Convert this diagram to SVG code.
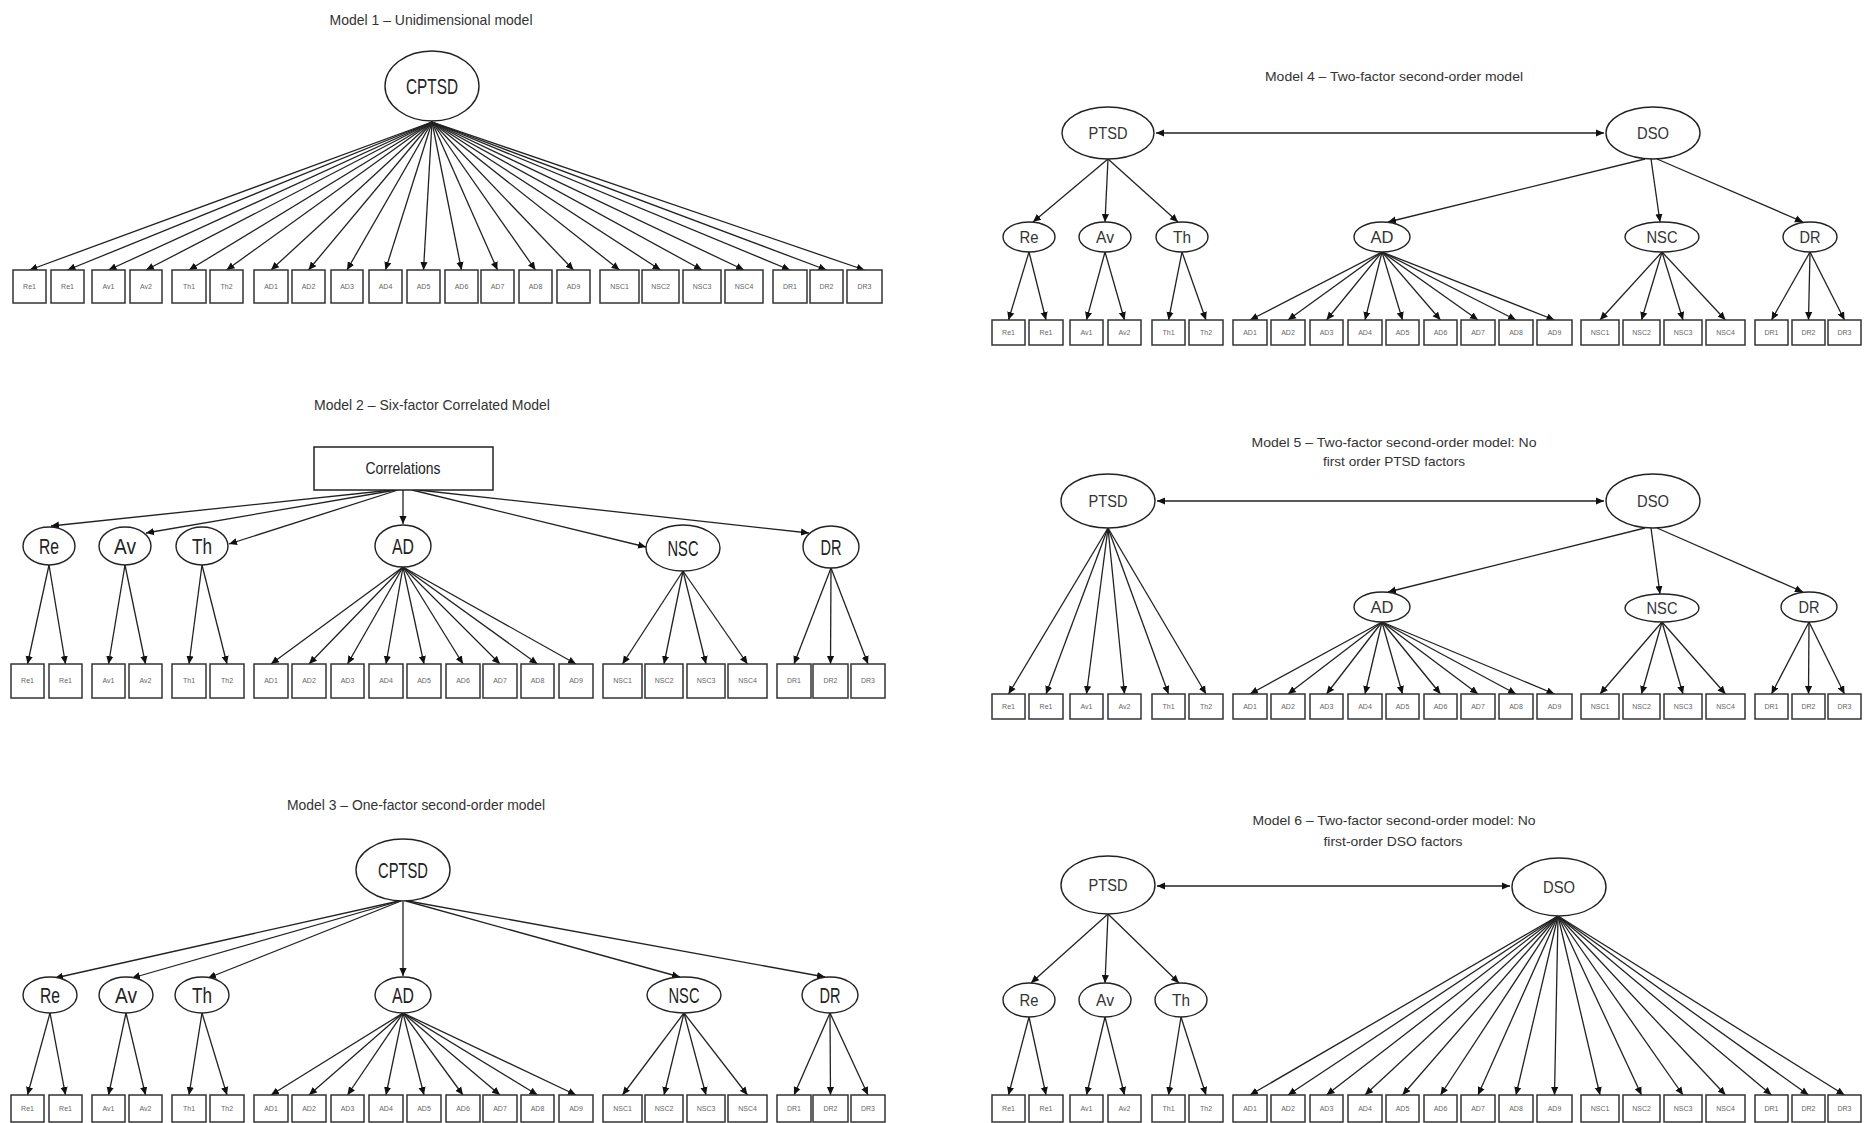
<svg xmlns="http://www.w3.org/2000/svg" width="1866" height="1123" viewBox="0 0 1866 1123">
<defs>
<marker id="ah" viewBox="0 0 10 10" refX="10" refY="5" markerWidth="8" markerHeight="8" markerUnits="userSpaceOnUse" orient="auto-start-reverse"><path d="M0,0.5 L10,5 L0,9.5 z" fill="#111"/></marker>
<style>
.box{fill:#fff;stroke:#333;stroke-width:1.5}
.lat{fill:#fff;stroke:#222;stroke-width:1.4}
.lbl{font-family:"Liberation Sans",Arial,sans-serif;font-size:7px;fill:#666;text-anchor:middle}
.fl{font-family:"Liberation Sans",Arial,sans-serif;font-size:22px;fill:#222;text-anchor:middle}
.fr{font-family:"Liberation Sans",Arial,sans-serif;font-size:17px;fill:#333;text-anchor:middle}
.tl{font-family:"Liberation Sans",Arial,sans-serif;font-size:15px;fill:#333;text-anchor:middle}
.tr{font-family:"Liberation Sans",Arial,sans-serif;font-size:13px;fill:#333;text-anchor:middle}
.ar{stroke:#222;stroke-width:1.3;fill:none;marker-end:url(#ah)}
.dar{stroke:#222;stroke-width:1.3;fill:none;marker-end:url(#ah);marker-start:url(#ah)}
</style>
</defs>
<rect width="1866" height="1123" fill="#fff"/>

<!-- Titles -->
<g id="titles">
<text class="tl" x="431" y="25" textLength="203" lengthAdjust="spacingAndGlyphs">Model 1 – Unidimensional model</text>
<text class="tl" x="432" y="410" textLength="236" lengthAdjust="spacingAndGlyphs">Model 2 – Six-factor Correlated Model</text>
<text class="tl" x="416" y="810" textLength="258" lengthAdjust="spacingAndGlyphs">Model 3 – One-factor second-order model</text>
<text class="tr" x="1394" y="81" textLength="258" lengthAdjust="spacingAndGlyphs">Model 4 – Two-factor second-order model</text>
<text class="tr" x="1394" y="447" textLength="285" lengthAdjust="spacingAndGlyphs">Model 5 – Two-factor second-order model: No</text>
<text class="tr" x="1394" y="466" textLength="142" lengthAdjust="spacingAndGlyphs">first order PTSD factors</text>
<text class="tr" x="1394" y="825" textLength="283" lengthAdjust="spacingAndGlyphs">Model 6 – Two-factor second-order model: No</text>
<text class="tr" x="1393" y="846" textLength="139" lengthAdjust="spacingAndGlyphs">first-order DSO factors</text>
</g>

<!-- Connectors -->
<g id="connectors">
<!-- Model 1 -->
<line class="ar" x1="432" y1="122" x2="29.5" y2="270"/>
<line class="ar" x1="432" y1="122" x2="67.5" y2="270"/>
<line class="ar" x1="432" y1="122" x2="108.5" y2="270"/>
<line class="ar" x1="432" y1="122" x2="146" y2="270"/>
<line class="ar" x1="432" y1="122" x2="189" y2="270"/>
<line class="ar" x1="432" y1="122" x2="226.5" y2="270"/>
<line class="ar" x1="432" y1="122" x2="271" y2="270"/>
<line class="ar" x1="432" y1="122" x2="308.5" y2="270"/>
<line class="ar" x1="432" y1="122" x2="347" y2="270"/>
<line class="ar" x1="432" y1="122" x2="385.5" y2="270"/>
<line class="ar" x1="432" y1="122" x2="423.5" y2="270"/>
<line class="ar" x1="432" y1="122" x2="461.5" y2="270"/>
<line class="ar" x1="432" y1="122" x2="497.5" y2="270"/>
<line class="ar" x1="432" y1="122" x2="535.5" y2="270"/>
<line class="ar" x1="432" y1="122" x2="573.5" y2="270"/>
<line class="ar" x1="432" y1="122" x2="619.5" y2="270"/>
<line class="ar" x1="432" y1="122" x2="660.5" y2="270"/>
<line class="ar" x1="432" y1="122" x2="702" y2="270"/>
<line class="ar" x1="432" y1="122" x2="744" y2="270"/>
<line class="ar" x1="432" y1="122" x2="790" y2="270"/>
<line class="ar" x1="432" y1="122" x2="826.5" y2="270"/>
<line class="ar" x1="432" y1="122" x2="864.5" y2="270"/>
<!-- Model 2 -->
<line class="ar" x1="392" y1="490" x2="51" y2="526"/>
<line class="ar" x1="396" y1="490" x2="146" y2="533"/>
<line class="ar" x1="398" y1="490" x2="229" y2="544"/>
<line class="ar" x1="403" y1="490" x2="403" y2="524"/>
<line class="ar" x1="412" y1="490" x2="646" y2="547"/>
<line class="ar" x1="418" y1="490" x2="809" y2="533"/>
<line class="ar" x1="49" y1="565" x2="27.5" y2="664"/>
<line class="ar" x1="49" y1="565" x2="65.5" y2="664"/>
<line class="ar" x1="125" y1="565" x2="108.5" y2="664"/>
<line class="ar" x1="125" y1="565" x2="145.5" y2="664"/>
<line class="ar" x1="202" y1="565" x2="189" y2="664"/>
<line class="ar" x1="202" y1="565" x2="227" y2="664"/>
<line class="ar" x1="403" y1="567" x2="271" y2="664"/>
<line class="ar" x1="403" y1="567" x2="309" y2="664"/>
<line class="ar" x1="403" y1="567" x2="347.5" y2="664"/>
<line class="ar" x1="403" y1="567" x2="386" y2="664"/>
<line class="ar" x1="403" y1="567" x2="424" y2="664"/>
<line class="ar" x1="403" y1="567" x2="463" y2="664"/>
<line class="ar" x1="403" y1="567" x2="500" y2="664"/>
<line class="ar" x1="403" y1="567" x2="537.5" y2="664"/>
<line class="ar" x1="403" y1="567" x2="576" y2="664"/>
<line class="ar" x1="683" y1="571" x2="622.5" y2="664"/>
<line class="ar" x1="683" y1="571" x2="664" y2="664"/>
<line class="ar" x1="683" y1="571" x2="706" y2="664"/>
<line class="ar" x1="683" y1="571" x2="747.5" y2="664"/>
<line class="ar" x1="831" y1="568" x2="794" y2="664"/>
<line class="ar" x1="831" y1="568" x2="830.5" y2="664"/>
<line class="ar" x1="831" y1="568" x2="868" y2="664"/>
<!-- Model 3 -->
<line class="ar" x1="399" y1="901" x2="55" y2="978"/>
<line class="ar" x1="400" y1="901" x2="132" y2="978"/>
<line class="ar" x1="401" y1="901" x2="208" y2="978"/>
<line class="ar" x1="403" y1="902" x2="403" y2="976"/>
<line class="ar" x1="406" y1="901" x2="680" y2="977"/>
<line class="ar" x1="408" y1="901" x2="825" y2="977"/>
<line class="ar" x1="50" y1="1013" x2="27.5" y2="1095"/>
<line class="ar" x1="50" y1="1013" x2="65.5" y2="1095"/>
<line class="ar" x1="126" y1="1013" x2="108.5" y2="1095"/>
<line class="ar" x1="126" y1="1013" x2="145.5" y2="1095"/>
<line class="ar" x1="202" y1="1013" x2="189" y2="1095"/>
<line class="ar" x1="202" y1="1013" x2="227" y2="1095"/>
<line class="ar" x1="403" y1="1013" x2="271" y2="1095"/>
<line class="ar" x1="403" y1="1013" x2="309" y2="1095"/>
<line class="ar" x1="403" y1="1013" x2="347.5" y2="1095"/>
<line class="ar" x1="403" y1="1013" x2="386" y2="1095"/>
<line class="ar" x1="403" y1="1013" x2="424" y2="1095"/>
<line class="ar" x1="403" y1="1013" x2="463" y2="1095"/>
<line class="ar" x1="403" y1="1013" x2="500" y2="1095"/>
<line class="ar" x1="403" y1="1013" x2="537.5" y2="1095"/>
<line class="ar" x1="403" y1="1013" x2="576" y2="1095"/>
<line class="ar" x1="684" y1="1013" x2="622.5" y2="1095"/>
<line class="ar" x1="684" y1="1013" x2="664" y2="1095"/>
<line class="ar" x1="684" y1="1013" x2="706" y2="1095"/>
<line class="ar" x1="684" y1="1013" x2="747.5" y2="1095"/>
<line class="ar" x1="830" y1="1013" x2="794" y2="1095"/>
<line class="ar" x1="830" y1="1013" x2="830.5" y2="1095"/>
<line class="ar" x1="830" y1="1013" x2="868" y2="1095"/>
<!-- Model 4 -->
<line class="dar" x1="1156" y1="133" x2="1604" y2="133"/>
<line class="ar" x1="1108" y1="159" x2="1033" y2="222"/>
<line class="ar" x1="1108" y1="159" x2="1105" y2="222"/>
<line class="ar" x1="1108" y1="159" x2="1178" y2="222"/>
<line class="ar" x1="1645" y1="159" x2="1388" y2="222"/>
<line class="ar" x1="1651" y1="159" x2="1660" y2="222"/>
<line class="ar" x1="1657" y1="159" x2="1803" y2="222"/>
<line class="ar" x1="1029" y1="252" x2="1008.5" y2="320"/>
<line class="ar" x1="1029" y1="252" x2="1046" y2="320"/>
<line class="ar" x1="1105" y1="252" x2="1086.5" y2="320"/>
<line class="ar" x1="1105" y1="252" x2="1124.5" y2="320"/>
<line class="ar" x1="1182" y1="252" x2="1168.5" y2="320"/>
<line class="ar" x1="1182" y1="252" x2="1206" y2="320"/>
<line class="ar" x1="1382" y1="252" x2="1250" y2="320"/>
<line class="ar" x1="1382" y1="252" x2="1288" y2="320"/>
<line class="ar" x1="1382" y1="252" x2="1326.5" y2="320"/>
<line class="ar" x1="1382" y1="252" x2="1365" y2="320"/>
<line class="ar" x1="1382" y1="252" x2="1402.5" y2="320"/>
<line class="ar" x1="1382" y1="252" x2="1440.5" y2="320"/>
<line class="ar" x1="1382" y1="252" x2="1478" y2="320"/>
<line class="ar" x1="1382" y1="252" x2="1516" y2="320"/>
<line class="ar" x1="1382" y1="252" x2="1554.5" y2="320"/>
<line class="ar" x1="1662" y1="252" x2="1600" y2="320"/>
<line class="ar" x1="1662" y1="252" x2="1641.5" y2="320"/>
<line class="ar" x1="1662" y1="252" x2="1683" y2="320"/>
<line class="ar" x1="1662" y1="252" x2="1725.5" y2="320"/>
<line class="ar" x1="1810" y1="252" x2="1771.5" y2="320"/>
<line class="ar" x1="1810" y1="252" x2="1808.5" y2="320"/>
<line class="ar" x1="1810" y1="252" x2="1844.5" y2="320"/>
<!-- Model 5 -->
<line class="dar" x1="1157" y1="501" x2="1604" y2="501"/>
<line class="ar" x1="1108" y1="528" x2="1008.5" y2="694"/>
<line class="ar" x1="1108" y1="528" x2="1046" y2="694"/>
<line class="ar" x1="1108" y1="528" x2="1086.5" y2="694"/>
<line class="ar" x1="1108" y1="528" x2="1124.5" y2="694"/>
<line class="ar" x1="1108" y1="528" x2="1168.5" y2="694"/>
<line class="ar" x1="1108" y1="528" x2="1206" y2="694"/>
<line class="ar" x1="1645" y1="528" x2="1388" y2="592"/>
<line class="ar" x1="1651" y1="528" x2="1660" y2="594"/>
<line class="ar" x1="1657" y1="528" x2="1803" y2="592"/>
<line class="ar" x1="1382" y1="622" x2="1250" y2="694"/>
<line class="ar" x1="1382" y1="622" x2="1288" y2="694"/>
<line class="ar" x1="1382" y1="622" x2="1326.5" y2="694"/>
<line class="ar" x1="1382" y1="622" x2="1365" y2="694"/>
<line class="ar" x1="1382" y1="622" x2="1402.5" y2="694"/>
<line class="ar" x1="1382" y1="622" x2="1440.5" y2="694"/>
<line class="ar" x1="1382" y1="622" x2="1478" y2="694"/>
<line class="ar" x1="1382" y1="622" x2="1516" y2="694"/>
<line class="ar" x1="1382" y1="622" x2="1554.5" y2="694"/>
<line class="ar" x1="1662" y1="622" x2="1600" y2="694"/>
<line class="ar" x1="1662" y1="622" x2="1641.5" y2="694"/>
<line class="ar" x1="1662" y1="622" x2="1683" y2="694"/>
<line class="ar" x1="1662" y1="622" x2="1725.5" y2="694"/>
<line class="ar" x1="1809" y1="622" x2="1771.5" y2="694"/>
<line class="ar" x1="1809" y1="622" x2="1808.5" y2="694"/>
<line class="ar" x1="1809" y1="622" x2="1844.5" y2="694"/>
<!-- Model 6 -->
<line class="dar" x1="1157" y1="886" x2="1510" y2="886"/>
<line class="ar" x1="1108" y1="914" x2="1031" y2="983"/>
<line class="ar" x1="1108" y1="914" x2="1105" y2="983"/>
<line class="ar" x1="1108" y1="914" x2="1179" y2="983"/>
<line class="ar" x1="1029" y1="1017" x2="1008.5" y2="1095"/>
<line class="ar" x1="1029" y1="1017" x2="1046" y2="1095"/>
<line class="ar" x1="1105" y1="1017" x2="1086.5" y2="1095"/>
<line class="ar" x1="1105" y1="1017" x2="1124.5" y2="1095"/>
<line class="ar" x1="1181" y1="1017" x2="1168.5" y2="1095"/>
<line class="ar" x1="1181" y1="1017" x2="1206" y2="1095"/>
<line class="ar" x1="1558" y1="916" x2="1250" y2="1095"/>
<line class="ar" x1="1558" y1="916" x2="1288" y2="1095"/>
<line class="ar" x1="1558" y1="916" x2="1326.5" y2="1095"/>
<line class="ar" x1="1558" y1="916" x2="1365" y2="1095"/>
<line class="ar" x1="1558" y1="916" x2="1402.5" y2="1095"/>
<line class="ar" x1="1558" y1="916" x2="1440.5" y2="1095"/>
<line class="ar" x1="1558" y1="916" x2="1478" y2="1095"/>
<line class="ar" x1="1558" y1="916" x2="1516" y2="1095"/>
<line class="ar" x1="1558" y1="916" x2="1554.5" y2="1095"/>
<line class="ar" x1="1558" y1="916" x2="1600" y2="1095"/>
<line class="ar" x1="1558" y1="916" x2="1641.5" y2="1095"/>
<line class="ar" x1="1558" y1="916" x2="1683" y2="1095"/>
<line class="ar" x1="1558" y1="916" x2="1725.5" y2="1095"/>
<line class="ar" x1="1558" y1="916" x2="1771.5" y2="1095"/>
<line class="ar" x1="1558" y1="916" x2="1808.5" y2="1095"/>
<line class="ar" x1="1558" y1="916" x2="1844.5" y2="1095"/>
</g>

<!-- Model 1 nodes -->
<g id="m1-cptsd"><ellipse class="lat" cx="432" cy="86" rx="47" ry="35"/><text class="fl" x="432" y="94" textLength="52" lengthAdjust="spacingAndGlyphs">CPTSD</text></g>
<g id="m1-re1a"><rect class="box" x="13" y="270" width="33" height="33"/><text class="lbl" x="29.5" y="289">Re1</text></g>
<g id="m1-re1b"><rect class="box" x="51" y="270" width="33" height="33"/><text class="lbl" x="67.5" y="289">Re1</text></g>
<g id="m1-av1"><rect class="box" x="92" y="270" width="33" height="33"/><text class="lbl" x="108.5" y="289">Av1</text></g>
<g id="m1-av2"><rect class="box" x="130" y="270" width="32" height="33"/><text class="lbl" x="146" y="289">Av2</text></g>
<g id="m1-th1"><rect class="box" x="172" y="270" width="34" height="33"/><text class="lbl" x="189" y="289">Th1</text></g>
<g id="m1-th2"><rect class="box" x="210" y="270" width="33" height="33"/><text class="lbl" x="226.5" y="289">Th2</text></g>
<g id="m1-ad1"><rect class="box" x="254" y="270" width="34" height="33"/><text class="lbl" x="271" y="289">AD1</text></g>
<g id="m1-ad2"><rect class="box" x="292" y="270" width="33" height="33"/><text class="lbl" x="308.5" y="289">AD2</text></g>
<g id="m1-ad3"><rect class="box" x="331" y="270" width="32" height="33"/><text class="lbl" x="347" y="289">AD3</text></g>
<g id="m1-ad4"><rect class="box" x="369" y="270" width="33" height="33"/><text class="lbl" x="385.5" y="289">AD4</text></g>
<g id="m1-ad5"><rect class="box" x="407" y="270" width="33" height="33"/><text class="lbl" x="423.5" y="289">AD5</text></g>
<g id="m1-ad6"><rect class="box" x="445" y="270" width="33" height="33"/><text class="lbl" x="461.5" y="289">AD6</text></g>
<g id="m1-ad7"><rect class="box" x="481" y="270" width="33" height="33"/><text class="lbl" x="497.5" y="289">AD7</text></g>
<g id="m1-ad8"><rect class="box" x="519" y="270" width="33" height="33"/><text class="lbl" x="535.5" y="289">AD8</text></g>
<g id="m1-ad9"><rect class="box" x="557" y="270" width="33" height="33"/><text class="lbl" x="573.5" y="289">AD9</text></g>
<g id="m1-nsc1"><rect class="box" x="600" y="270" width="39" height="33"/><text class="lbl" x="619.5" y="289">NSC1</text></g>
<g id="m1-nsc2"><rect class="box" x="642" y="270" width="37" height="33"/><text class="lbl" x="660.5" y="289">NSC2</text></g>
<g id="m1-nsc3"><rect class="box" x="683" y="270" width="38" height="33"/><text class="lbl" x="702" y="289">NSC3</text></g>
<g id="m1-nsc4"><rect class="box" x="725" y="270" width="38" height="33"/><text class="lbl" x="744" y="289">NSC4</text></g>
<g id="m1-dr1"><rect class="box" x="773" y="270" width="34" height="33"/><text class="lbl" x="790" y="289">DR1</text></g>
<g id="m1-dr2"><rect class="box" x="810" y="270" width="33" height="33"/><text class="lbl" x="826.5" y="289">DR2</text></g>
<g id="m1-dr3"><rect class="box" x="847" y="270" width="35" height="33"/><text class="lbl" x="864.5" y="289">DR3</text></g>

<!-- Model 2 nodes -->
<g id="m2-corr"><rect class="box" x="314" y="447" width="179" height="43" style="stroke:#222"/><text class="fl" x="403" y="474" style="font-size:16px" textLength="75" lengthAdjust="spacingAndGlyphs">Correlations</text></g>
<g id="m2-re"><ellipse class="lat" cx="49" cy="546" rx="26" ry="19"/><text class="fl" x="49" y="554" textLength="20" lengthAdjust="spacingAndGlyphs">Re</text></g>
<g id="m2-av"><ellipse class="lat" cx="125" cy="546" rx="26" ry="19"/><text class="fl" x="125" y="554" textLength="22" lengthAdjust="spacingAndGlyphs">Av</text></g>
<g id="m2-th"><ellipse class="lat" cx="202" cy="546" rx="26" ry="19"/><text class="fl" x="202" y="554" textLength="20" lengthAdjust="spacingAndGlyphs">Th</text></g>
<g id="m2-ad"><ellipse class="lat" cx="403" cy="546" rx="28" ry="21"/><text class="fl" x="403" y="554" textLength="22" lengthAdjust="spacingAndGlyphs">AD</text></g>
<g id="m2-nsc"><ellipse class="lat" cx="683" cy="548" rx="37" ry="23"/><text class="fl" x="683" y="556" textLength="31" lengthAdjust="spacingAndGlyphs">NSC</text></g>
<g id="m2-dr"><ellipse class="lat" cx="831" cy="547" rx="28" ry="21"/><text class="fl" x="831" y="555" textLength="21" lengthAdjust="spacingAndGlyphs">DR</text></g>
<g id="m2-re1a"><rect class="box" x="11" y="664" width="33" height="34"/><text class="lbl" x="27.5" y="683">Re1</text></g>
<g id="m2-re1b"><rect class="box" x="49" y="664" width="33" height="34"/><text class="lbl" x="65.5" y="683">Re1</text></g>
<g id="m2-av1"><rect class="box" x="92" y="664" width="33" height="34"/><text class="lbl" x="108.5" y="683">Av1</text></g>
<g id="m2-av2"><rect class="box" x="129" y="664" width="33" height="34"/><text class="lbl" x="145.5" y="683">Av2</text></g>
<g id="m2-th1"><rect class="box" x="172" y="664" width="34" height="34"/><text class="lbl" x="189" y="683">Th1</text></g>
<g id="m2-th2"><rect class="box" x="210" y="664" width="34" height="34"/><text class="lbl" x="227" y="683">Th2</text></g>
<g id="m2-ad1"><rect class="box" x="254" y="664" width="34" height="34"/><text class="lbl" x="271" y="683">AD1</text></g>
<g id="m2-ad2"><rect class="box" x="292" y="664" width="34" height="34"/><text class="lbl" x="309" y="683">AD2</text></g>
<g id="m2-ad3"><rect class="box" x="331" y="664" width="33" height="34"/><text class="lbl" x="347.5" y="683">AD3</text></g>
<g id="m2-ad4"><rect class="box" x="369" y="664" width="34" height="34"/><text class="lbl" x="386" y="683">AD4</text></g>
<g id="m2-ad5"><rect class="box" x="407" y="664" width="34" height="34"/><text class="lbl" x="424" y="683">AD5</text></g>
<g id="m2-ad6"><rect class="box" x="446" y="664" width="34" height="34"/><text class="lbl" x="463" y="683">AD6</text></g>
<g id="m2-ad7"><rect class="box" x="483" y="664" width="34" height="34"/><text class="lbl" x="500" y="683">AD7</text></g>
<g id="m2-ad8"><rect class="box" x="521" y="664" width="33" height="34"/><text class="lbl" x="537.5" y="683">AD8</text></g>
<g id="m2-ad9"><rect class="box" x="559" y="664" width="34" height="34"/><text class="lbl" x="576" y="683">AD9</text></g>
<g id="m2-nsc1"><rect class="box" x="603" y="664" width="39" height="34"/><text class="lbl" x="622.5" y="683">NSC1</text></g>
<g id="m2-nsc2"><rect class="box" x="645" y="664" width="38" height="34"/><text class="lbl" x="664" y="683">NSC2</text></g>
<g id="m2-nsc3"><rect class="box" x="687" y="664" width="38" height="34"/><text class="lbl" x="706" y="683">NSC3</text></g>
<g id="m2-nsc4"><rect class="box" x="728" y="664" width="39" height="34"/><text class="lbl" x="747.5" y="683">NSC4</text></g>
<g id="m2-dr1"><rect class="box" x="777" y="664" width="34" height="34"/><text class="lbl" x="794" y="683">DR1</text></g>
<g id="m2-dr2"><rect class="box" x="813" y="664" width="35" height="34"/><text class="lbl" x="830.5" y="683">DR2</text></g>
<g id="m2-dr3"><rect class="box" x="851" y="664" width="34" height="34"/><text class="lbl" x="868" y="683">DR3</text></g>

<!-- Model 3 nodes -->
<g id="m3-cptsd"><ellipse class="lat" cx="403" cy="870" rx="47" ry="31"/><text class="fl" x="403" y="878" textLength="50" lengthAdjust="spacingAndGlyphs">CPTSD</text></g>
<g id="m3-re"><ellipse class="lat" cx="50" cy="995" rx="27" ry="18"/><text class="fl" x="50" y="1003" textLength="20" lengthAdjust="spacingAndGlyphs">Re</text></g>
<g id="m3-av"><ellipse class="lat" cx="126" cy="995" rx="27" ry="18"/><text class="fl" x="126" y="1003" textLength="22" lengthAdjust="spacingAndGlyphs">Av</text></g>
<g id="m3-th"><ellipse class="lat" cx="202" cy="995" rx="27" ry="18"/><text class="fl" x="202" y="1003" textLength="20" lengthAdjust="spacingAndGlyphs">Th</text></g>
<g id="m3-ad"><ellipse class="lat" cx="403" cy="995" rx="28" ry="18"/><text class="fl" x="403" y="1003" textLength="22" lengthAdjust="spacingAndGlyphs">AD</text></g>
<g id="m3-nsc"><ellipse class="lat" cx="684" cy="995" rx="37" ry="18"/><text class="fl" x="684" y="1003" textLength="31" lengthAdjust="spacingAndGlyphs">NSC</text></g>
<g id="m3-dr"><ellipse class="lat" cx="830" cy="995" rx="28" ry="18"/><text class="fl" x="830" y="1003" textLength="21" lengthAdjust="spacingAndGlyphs">DR</text></g>
<g id="m3-re1a"><rect class="box" x="11" y="1095" width="33" height="27"/><text class="lbl" x="27.5" y="1111">Re1</text></g>
<g id="m3-re1b"><rect class="box" x="49" y="1095" width="33" height="27"/><text class="lbl" x="65.5" y="1111">Re1</text></g>
<g id="m3-av1"><rect class="box" x="92" y="1095" width="33" height="27"/><text class="lbl" x="108.5" y="1111">Av1</text></g>
<g id="m3-av2"><rect class="box" x="129" y="1095" width="33" height="27"/><text class="lbl" x="145.5" y="1111">Av2</text></g>
<g id="m3-th1"><rect class="box" x="172" y="1095" width="34" height="27"/><text class="lbl" x="189" y="1111">Th1</text></g>
<g id="m3-th2"><rect class="box" x="210" y="1095" width="34" height="27"/><text class="lbl" x="227" y="1111">Th2</text></g>
<g id="m3-ad1"><rect class="box" x="254" y="1095" width="34" height="27"/><text class="lbl" x="271" y="1111">AD1</text></g>
<g id="m3-ad2"><rect class="box" x="292" y="1095" width="34" height="27"/><text class="lbl" x="309" y="1111">AD2</text></g>
<g id="m3-ad3"><rect class="box" x="331" y="1095" width="33" height="27"/><text class="lbl" x="347.5" y="1111">AD3</text></g>
<g id="m3-ad4"><rect class="box" x="369" y="1095" width="34" height="27"/><text class="lbl" x="386" y="1111">AD4</text></g>
<g id="m3-ad5"><rect class="box" x="407" y="1095" width="34" height="27"/><text class="lbl" x="424" y="1111">AD5</text></g>
<g id="m3-ad6"><rect class="box" x="446" y="1095" width="34" height="27"/><text class="lbl" x="463" y="1111">AD6</text></g>
<g id="m3-ad7"><rect class="box" x="483" y="1095" width="34" height="27"/><text class="lbl" x="500" y="1111">AD7</text></g>
<g id="m3-ad8"><rect class="box" x="521" y="1095" width="33" height="27"/><text class="lbl" x="537.5" y="1111">AD8</text></g>
<g id="m3-ad9"><rect class="box" x="559" y="1095" width="34" height="27"/><text class="lbl" x="576" y="1111">AD9</text></g>
<g id="m3-nsc1"><rect class="box" x="603" y="1095" width="39" height="27"/><text class="lbl" x="622.5" y="1111">NSC1</text></g>
<g id="m3-nsc2"><rect class="box" x="645" y="1095" width="38" height="27"/><text class="lbl" x="664" y="1111">NSC2</text></g>
<g id="m3-nsc3"><rect class="box" x="687" y="1095" width="38" height="27"/><text class="lbl" x="706" y="1111">NSC3</text></g>
<g id="m3-nsc4"><rect class="box" x="728" y="1095" width="39" height="27"/><text class="lbl" x="747.5" y="1111">NSC4</text></g>
<g id="m3-dr1"><rect class="box" x="777" y="1095" width="34" height="27"/><text class="lbl" x="794" y="1111">DR1</text></g>
<g id="m3-dr2"><rect class="box" x="813" y="1095" width="35" height="27"/><text class="lbl" x="830.5" y="1111">DR2</text></g>
<g id="m3-dr3"><rect class="box" x="851" y="1095" width="34" height="27"/><text class="lbl" x="868" y="1111">DR3</text></g>

<!-- Model 4 nodes -->
<g id="m4-ptsd"><ellipse class="lat" cx="1108" cy="133" rx="46" ry="26"/><text class="fr" x="1108" y="139" textLength="39" lengthAdjust="spacingAndGlyphs">PTSD</text></g>
<g id="m4-dso"><ellipse class="lat" cx="1653" cy="133" rx="47" ry="26"/><text class="fr" x="1653" y="139" textLength="32" lengthAdjust="spacingAndGlyphs">DSO</text></g>
<g id="m4-re"><ellipse class="lat" cx="1029" cy="237" rx="26" ry="15"/><text class="fr" x="1029" y="243" textLength="19" lengthAdjust="spacingAndGlyphs">Re</text></g>
<g id="m4-av"><ellipse class="lat" cx="1105" cy="237" rx="26" ry="15"/><text class="fr" x="1105" y="243" textLength="18" lengthAdjust="spacingAndGlyphs">Av</text></g>
<g id="m4-th"><ellipse class="lat" cx="1182" cy="237" rx="26" ry="15"/><text class="fr" x="1182" y="243" textLength="18" lengthAdjust="spacingAndGlyphs">Th</text></g>
<g id="m4-ad"><ellipse class="lat" cx="1382" cy="237" rx="28" ry="15"/><text class="fr" x="1382" y="243" textLength="23" lengthAdjust="spacingAndGlyphs">AD</text></g>
<g id="m4-nsc"><ellipse class="lat" cx="1662" cy="237" rx="37" ry="15"/><text class="fr" x="1662" y="243" textLength="31" lengthAdjust="spacingAndGlyphs">NSC</text></g>
<g id="m4-dr"><ellipse class="lat" cx="1810" cy="237" rx="27" ry="15"/><text class="fr" x="1810" y="243" textLength="21" lengthAdjust="spacingAndGlyphs">DR</text></g>
<g id="m4-re1a"><rect class="box" x="992" y="320" width="33" height="25"/><text class="lbl" x="1008.5" y="335">Re1</text></g>
<g id="m4-re1b"><rect class="box" x="1029" y="320" width="34" height="25"/><text class="lbl" x="1046" y="335">Re1</text></g>
<g id="m4-av1"><rect class="box" x="1070" y="320" width="33" height="25"/><text class="lbl" x="1086.5" y="335">Av1</text></g>
<g id="m4-av2"><rect class="box" x="1108" y="320" width="33" height="25"/><text class="lbl" x="1124.5" y="335">Av2</text></g>
<g id="m4-th1"><rect class="box" x="1152" y="320" width="33" height="25"/><text class="lbl" x="1168.5" y="335">Th1</text></g>
<g id="m4-th2"><rect class="box" x="1189" y="320" width="34" height="25"/><text class="lbl" x="1206" y="335">Th2</text></g>
<g id="m4-ad1"><rect class="box" x="1233" y="320" width="34" height="25"/><text class="lbl" x="1250" y="335">AD1</text></g>
<g id="m4-ad2"><rect class="box" x="1271" y="320" width="34" height="25"/><text class="lbl" x="1288" y="335">AD2</text></g>
<g id="m4-ad3"><rect class="box" x="1310" y="320" width="33" height="25"/><text class="lbl" x="1326.5" y="335">AD3</text></g>
<g id="m4-ad4"><rect class="box" x="1348" y="320" width="34" height="25"/><text class="lbl" x="1365" y="335">AD4</text></g>
<g id="m4-ad5"><rect class="box" x="1386" y="320" width="33" height="25"/><text class="lbl" x="1402.5" y="335">AD5</text></g>
<g id="m4-ad6"><rect class="box" x="1424" y="320" width="33" height="25"/><text class="lbl" x="1440.5" y="335">AD6</text></g>
<g id="m4-ad7"><rect class="box" x="1461" y="320" width="34" height="25"/><text class="lbl" x="1478" y="335">AD7</text></g>
<g id="m4-ad8"><rect class="box" x="1499" y="320" width="34" height="25"/><text class="lbl" x="1516" y="335">AD8</text></g>
<g id="m4-ad9"><rect class="box" x="1537" y="320" width="35" height="25"/><text class="lbl" x="1554.5" y="335">AD9</text></g>
<g id="m4-nsc1"><rect class="box" x="1581" y="320" width="38" height="25"/><text class="lbl" x="1600" y="335">NSC1</text></g>
<g id="m4-nsc2"><rect class="box" x="1623" y="320" width="37" height="25"/><text class="lbl" x="1641.5" y="335">NSC2</text></g>
<g id="m4-nsc3"><rect class="box" x="1664" y="320" width="38" height="25"/><text class="lbl" x="1683" y="335">NSC3</text></g>
<g id="m4-nsc4"><rect class="box" x="1706" y="320" width="39" height="25"/><text class="lbl" x="1725.5" y="335">NSC4</text></g>
<g id="m4-dr1"><rect class="box" x="1755" y="320" width="33" height="25"/><text class="lbl" x="1771.5" y="335">DR1</text></g>
<g id="m4-dr2"><rect class="box" x="1792" y="320" width="33" height="25"/><text class="lbl" x="1808.5" y="335">DR2</text></g>
<g id="m4-dr3"><rect class="box" x="1828" y="320" width="33" height="25"/><text class="lbl" x="1844.5" y="335">DR3</text></g>

<!-- Model 5 nodes -->
<g id="m5-ptsd"><ellipse class="lat" cx="1108" cy="501" rx="47" ry="27"/><text class="fr" x="1108" y="507" textLength="39" lengthAdjust="spacingAndGlyphs">PTSD</text></g>
<g id="m5-dso"><ellipse class="lat" cx="1653" cy="501" rx="47" ry="27"/><text class="fr" x="1653" y="507" textLength="32" lengthAdjust="spacingAndGlyphs">DSO</text></g>
<g id="m5-ad"><ellipse class="lat" cx="1382" cy="607" rx="28" ry="15"/><text class="fr" x="1382" y="613" textLength="23" lengthAdjust="spacingAndGlyphs">AD</text></g>
<g id="m5-nsc"><ellipse class="lat" cx="1662" cy="608" rx="37" ry="14"/><text class="fr" x="1662" y="614" textLength="31" lengthAdjust="spacingAndGlyphs">NSC</text></g>
<g id="m5-dr"><ellipse class="lat" cx="1809" cy="607" rx="28" ry="15"/><text class="fr" x="1809" y="613" textLength="21" lengthAdjust="spacingAndGlyphs">DR</text></g>
<g id="m5-re1a"><rect class="box" x="992" y="694" width="33" height="25"/><text class="lbl" x="1008.5" y="709">Re1</text></g>
<g id="m5-re1b"><rect class="box" x="1029" y="694" width="34" height="25"/><text class="lbl" x="1046" y="709">Re1</text></g>
<g id="m5-av1"><rect class="box" x="1070" y="694" width="33" height="25"/><text class="lbl" x="1086.5" y="709">Av1</text></g>
<g id="m5-av2"><rect class="box" x="1108" y="694" width="33" height="25"/><text class="lbl" x="1124.5" y="709">Av2</text></g>
<g id="m5-th1"><rect class="box" x="1152" y="694" width="33" height="25"/><text class="lbl" x="1168.5" y="709">Th1</text></g>
<g id="m5-th2"><rect class="box" x="1189" y="694" width="34" height="25"/><text class="lbl" x="1206" y="709">Th2</text></g>
<g id="m5-ad1"><rect class="box" x="1233" y="694" width="34" height="25"/><text class="lbl" x="1250" y="709">AD1</text></g>
<g id="m5-ad2"><rect class="box" x="1271" y="694" width="34" height="25"/><text class="lbl" x="1288" y="709">AD2</text></g>
<g id="m5-ad3"><rect class="box" x="1310" y="694" width="33" height="25"/><text class="lbl" x="1326.5" y="709">AD3</text></g>
<g id="m5-ad4"><rect class="box" x="1348" y="694" width="34" height="25"/><text class="lbl" x="1365" y="709">AD4</text></g>
<g id="m5-ad5"><rect class="box" x="1386" y="694" width="33" height="25"/><text class="lbl" x="1402.5" y="709">AD5</text></g>
<g id="m5-ad6"><rect class="box" x="1424" y="694" width="33" height="25"/><text class="lbl" x="1440.5" y="709">AD6</text></g>
<g id="m5-ad7"><rect class="box" x="1461" y="694" width="34" height="25"/><text class="lbl" x="1478" y="709">AD7</text></g>
<g id="m5-ad8"><rect class="box" x="1499" y="694" width="34" height="25"/><text class="lbl" x="1516" y="709">AD8</text></g>
<g id="m5-ad9"><rect class="box" x="1537" y="694" width="35" height="25"/><text class="lbl" x="1554.5" y="709">AD9</text></g>
<g id="m5-nsc1"><rect class="box" x="1581" y="694" width="38" height="25"/><text class="lbl" x="1600" y="709">NSC1</text></g>
<g id="m5-nsc2"><rect class="box" x="1623" y="694" width="37" height="25"/><text class="lbl" x="1641.5" y="709">NSC2</text></g>
<g id="m5-nsc3"><rect class="box" x="1664" y="694" width="38" height="25"/><text class="lbl" x="1683" y="709">NSC3</text></g>
<g id="m5-nsc4"><rect class="box" x="1706" y="694" width="39" height="25"/><text class="lbl" x="1725.5" y="709">NSC4</text></g>
<g id="m5-dr1"><rect class="box" x="1755" y="694" width="33" height="25"/><text class="lbl" x="1771.5" y="709">DR1</text></g>
<g id="m5-dr2"><rect class="box" x="1792" y="694" width="33" height="25"/><text class="lbl" x="1808.5" y="709">DR2</text></g>
<g id="m5-dr3"><rect class="box" x="1828" y="694" width="33" height="25"/><text class="lbl" x="1844.5" y="709">DR3</text></g>

<!-- Model 6 nodes -->
<g id="m6-ptsd"><ellipse class="lat" cx="1108" cy="885" rx="47" ry="29"/><text class="fr" x="1108" y="891" textLength="39" lengthAdjust="spacingAndGlyphs">PTSD</text></g>
<g id="m6-dso"><ellipse class="lat" cx="1559" cy="887" rx="47" ry="29"/><text class="fr" x="1559" y="893" textLength="32" lengthAdjust="spacingAndGlyphs">DSO</text></g>
<g id="m6-re"><ellipse class="lat" cx="1029" cy="1000" rx="26" ry="17"/><text class="fr" x="1029" y="1006" textLength="19" lengthAdjust="spacingAndGlyphs">Re</text></g>
<g id="m6-av"><ellipse class="lat" cx="1105" cy="1000" rx="26" ry="17"/><text class="fr" x="1105" y="1006" textLength="18" lengthAdjust="spacingAndGlyphs">Av</text></g>
<g id="m6-th"><ellipse class="lat" cx="1181" cy="1000" rx="26" ry="17"/><text class="fr" x="1181" y="1006" textLength="18" lengthAdjust="spacingAndGlyphs">Th</text></g>
<g id="m6-re1a"><rect class="box" x="992" y="1095" width="33" height="27"/><text class="lbl" x="1008.5" y="1111">Re1</text></g>
<g id="m6-re1b"><rect class="box" x="1029" y="1095" width="34" height="27"/><text class="lbl" x="1046" y="1111">Re1</text></g>
<g id="m6-av1"><rect class="box" x="1070" y="1095" width="33" height="27"/><text class="lbl" x="1086.5" y="1111">Av1</text></g>
<g id="m6-av2"><rect class="box" x="1108" y="1095" width="33" height="27"/><text class="lbl" x="1124.5" y="1111">Av2</text></g>
<g id="m6-th1"><rect class="box" x="1152" y="1095" width="33" height="27"/><text class="lbl" x="1168.5" y="1111">Th1</text></g>
<g id="m6-th2"><rect class="box" x="1189" y="1095" width="34" height="27"/><text class="lbl" x="1206" y="1111">Th2</text></g>
<g id="m6-ad1"><rect class="box" x="1233" y="1095" width="34" height="27"/><text class="lbl" x="1250" y="1111">AD1</text></g>
<g id="m6-ad2"><rect class="box" x="1271" y="1095" width="34" height="27"/><text class="lbl" x="1288" y="1111">AD2</text></g>
<g id="m6-ad3"><rect class="box" x="1310" y="1095" width="33" height="27"/><text class="lbl" x="1326.5" y="1111">AD3</text></g>
<g id="m6-ad4"><rect class="box" x="1348" y="1095" width="34" height="27"/><text class="lbl" x="1365" y="1111">AD4</text></g>
<g id="m6-ad5"><rect class="box" x="1386" y="1095" width="33" height="27"/><text class="lbl" x="1402.5" y="1111">AD5</text></g>
<g id="m6-ad6"><rect class="box" x="1424" y="1095" width="33" height="27"/><text class="lbl" x="1440.5" y="1111">AD6</text></g>
<g id="m6-ad7"><rect class="box" x="1461" y="1095" width="34" height="27"/><text class="lbl" x="1478" y="1111">AD7</text></g>
<g id="m6-ad8"><rect class="box" x="1499" y="1095" width="34" height="27"/><text class="lbl" x="1516" y="1111">AD8</text></g>
<g id="m6-ad9"><rect class="box" x="1537" y="1095" width="35" height="27"/><text class="lbl" x="1554.5" y="1111">AD9</text></g>
<g id="m6-nsc1"><rect class="box" x="1581" y="1095" width="38" height="27"/><text class="lbl" x="1600" y="1111">NSC1</text></g>
<g id="m6-nsc2"><rect class="box" x="1623" y="1095" width="37" height="27"/><text class="lbl" x="1641.5" y="1111">NSC2</text></g>
<g id="m6-nsc3"><rect class="box" x="1664" y="1095" width="38" height="27"/><text class="lbl" x="1683" y="1111">NSC3</text></g>
<g id="m6-nsc4"><rect class="box" x="1706" y="1095" width="39" height="27"/><text class="lbl" x="1725.5" y="1111">NSC4</text></g>
<g id="m6-dr1"><rect class="box" x="1755" y="1095" width="33" height="27"/><text class="lbl" x="1771.5" y="1111">DR1</text></g>
<g id="m6-dr2"><rect class="box" x="1792" y="1095" width="33" height="27"/><text class="lbl" x="1808.5" y="1111">DR2</text></g>
<g id="m6-dr3"><rect class="box" x="1828" y="1095" width="33" height="27"/><text class="lbl" x="1844.5" y="1111">DR3</text></g>
</svg>
